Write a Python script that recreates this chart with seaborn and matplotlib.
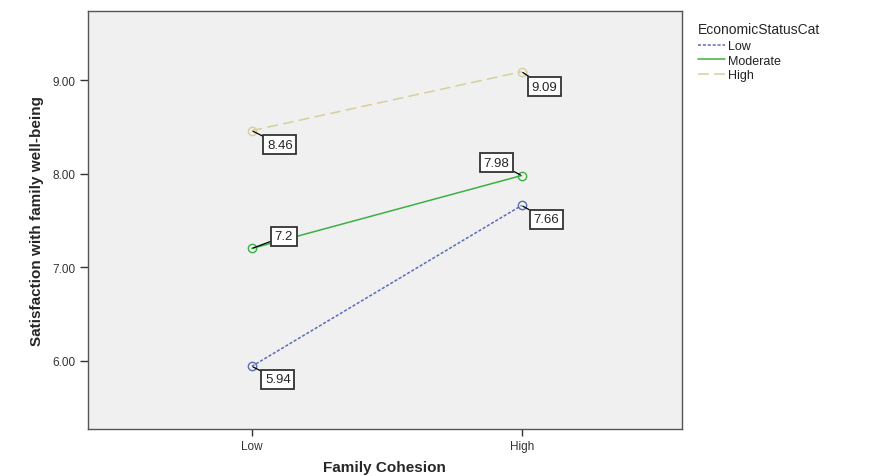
import pandas as pd
import matplotlib
matplotlib.use("Agg")
import matplotlib.pyplot as plt
import seaborn as sns

# data
cohesion = ["Low", "High"]
econ_levels = ["Low", "Moderate", "High"]
low_vals = [5.94, 7.66]
moderate_vals = [7.20, 7.98]
high_vals = [8.46, 9.09]
point_labels = {"Low": ["5.94", "7.66"], "Moderate": ["7.2", "7.98"], "High": ["8.46", "9.09"]}

PALETTE = {"Low": "#5a6db4", "Moderate": "#3cb043", "High": "#d6cf9c"}
DASHES = {"Low": (2, 1.2), "Moderate": "", "High": (7, 3.5)}
# label offsets (pixels) relative to each point
OFFSETS = {"Low": [(26, -13), (25, -14)],
           "Moderate": [(32, 12), (-25, 13)],
           "High": [(28, -14), (23, -15)]}

rows = []
for lvl, vals in zip(econ_levels, [low_vals, moderate_vals, high_vals]):
    for c, v in zip(cohesion, vals):
        rows.append({"FamilyCohesion": c, "Satisfaction": v, "EconomicStatusCat": lvl})
df = pd.DataFrame(rows)
df["x"] = df["FamilyCohesion"].map({c: i for i, c in enumerate(cohesion)})

sns.set_style("white")
plt.rcParams["font.family"] = ["Liberation Sans", "DejaVu Sans"]

fig = plt.figure(figsize=(8.73, 4.77), dpi=100)
ax = fig.add_axes([0.1008, 0.0985, 0.68, 0.8765])
ax.set_facecolor("#f0f0f0")

sns.lineplot(data=df, x="x", y="Satisfaction", hue="EconomicStatusCat", style="EconomicStatusCat",
             hue_order=econ_levels, style_order=econ_levels, palette=PALETTE, dashes=DASHES,
             markers={"Low": "o", "Moderate": "o", "High": "o"}, markersize=6, linewidth=1.1,
             ax=ax, legend=True)

for line in ax.lines:
    line.set_markerfacecolor("none")
    line.set_markeredgecolor(line.get_color())
    line.set_markeredgewidth(1.0)

for lvl in econ_levels:
    sub = df[df["EconomicStatusCat"] == lvl]
    for i, (xv, yv) in enumerate(zip(sub["x"], sub["Satisfaction"])):
        ax.annotate(point_labels[lvl][i], xy=(xv, yv), xytext=OFFSETS[lvl][i],
                    textcoords="offset pixels", ha="center", va="center", fontsize=9.5,
                    bbox=dict(boxstyle="square,pad=0.28", fc="white", ec="#333333", lw=1.3),
                    arrowprops=dict(arrowstyle="-", color="black", lw=0.9, shrinkA=0, shrinkB=1))

ax.set_xlim(-0.607, 1.593)
ax.set_ylim(5.27, 9.74)
ax.set_xticks(range(len(cohesion)))
ax.set_xticklabels(cohesion)
ax.set_yticks([6, 7, 8, 9])
ax.set_yticklabels(["6.00", "7.00", "8.00", "9.00"])
ax.tick_params(axis="both", bottom=True, left=True, direction="out", length=5, width=1,
               colors="#333333", labelsize=8.5, labelcolor="#333333", pad=3)
ax.tick_params(axis="y", length=6)
for s in ax.spines.values():
    s.set_color("#555555")
    s.set_linewidth(1.0)

ax.set_xlabel("Family Cohesion", fontsize=11, fontweight="bold", labelpad=6)
ax.set_ylabel("Satisfaction with family well-being", fontsize=11, fontweight="bold",
              family=["Liberation Sans Narrow", "Liberation Sans", "DejaVu Sans"], labelpad=6)

handles, labels = ax.get_legend_handles_labels()
for h in handles:
    h.set_marker("")
leg = ax.legend(handles, labels, title="EconomicStatusCat", loc="upper left",
                bbox_to_anchor=(1.012, 0.995), frameon=False, fontsize=9,
                title_fontsize=10, handlelength=2.2, handletextpad=0.2,
                labelspacing=0.22, borderaxespad=0.3)
leg._legend_box.align = "left"
leg._legend_box.sep = 3
for t in leg.get_texts():
    t.set_color("#222222")

fig.savefig("out.png", dpi=100)
